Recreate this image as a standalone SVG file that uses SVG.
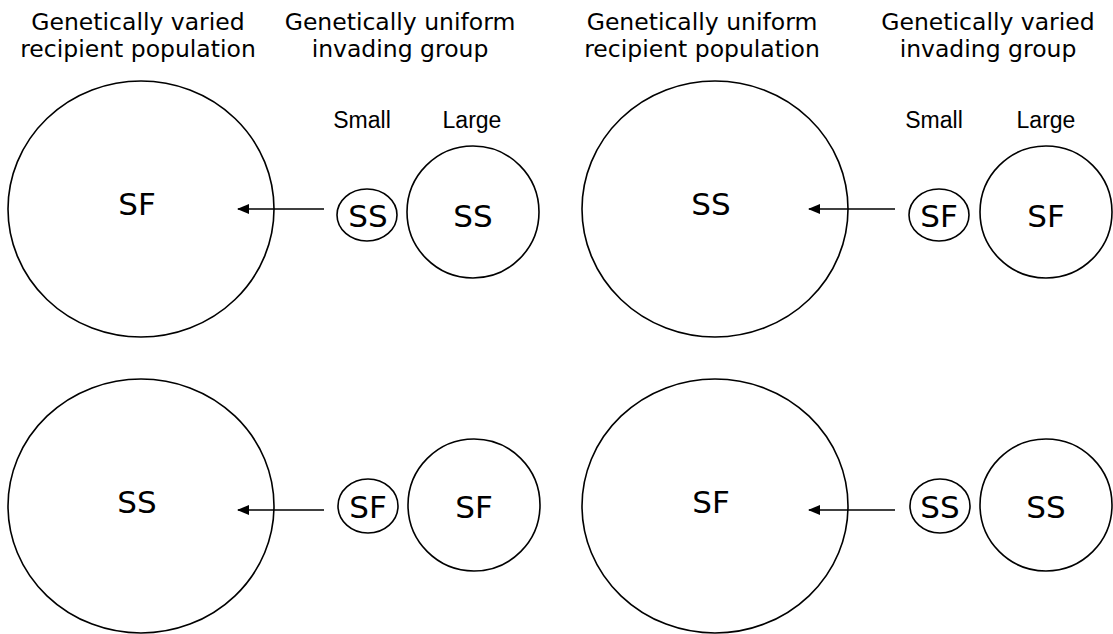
<svg xmlns="http://www.w3.org/2000/svg" width="1113" height="634" viewBox="0 0 1113 634">
<style>
.shape{fill:none;stroke:#000;stroke-width:1.6}
.hdr{font-family:"DejaVu Sans",Verdana,sans-serif;font-size:23.5px;text-anchor:middle;fill:#000}
.sz{font-family:"Liberation Sans",Arial,sans-serif;font-size:23px;text-anchor:middle;fill:#000}
.lbl{font-family:"DejaVu Sans",Verdana,sans-serif;font-size:31px;text-anchor:middle;fill:#000}
.conn{stroke:#000;stroke-width:1.6;fill:none;marker-end:url(#ah)}
</style>
<defs>
<marker id="ah" viewBox="0 0 12 10" refX="11" refY="5" markerWidth="12" markerHeight="10" markerUnits="userSpaceOnUse" orient="auto">
<path d="M0,0 L12,5 L0,10 Z" fill="#000"/>
</marker>
</defs>
<rect width="1113" height="634" fill="#fff"/>
<g id="headers">
<text class="hdr" x="138" y="29.5">Genetically varied</text>
<text class="hdr" x="138" y="57">recipient population</text>
<text class="hdr" x="400" y="29.5">Genetically uniform</text>
<text class="hdr" x="400" y="57">invading group</text>
<text class="hdr" x="702" y="29.5">Genetically uniform</text>
<text class="hdr" x="702" y="57">recipient population</text>
<text class="hdr" x="988" y="29.5">Genetically varied</text>
<text class="hdr" x="988" y="57">invading group</text>
<text class="sz" x="362" y="128">Small</text>
<text class="sz" x="472" y="128">Large</text>
<text class="sz" x="934" y="128">Small</text>
<text class="sz" x="1046" y="128">Large</text>
</g>
<g id="connectors">
<line class="conn" x1="324" y1="209" x2="238" y2="209"/>
<line class="conn" x1="895" y1="209" x2="809" y2="209"/>
<line class="conn" x1="324" y1="510" x2="238" y2="510"/>
<line class="conn" x1="895" y1="510" x2="809" y2="510"/>
</g>
<g id="tl-recipient"><ellipse class="shape" cx="141" cy="209" rx="133" ry="128"/><text class="lbl" x="137" y="215">SF</text></g>
<g id="tl-small"><ellipse class="shape" cx="367" cy="215" rx="30" ry="26"/><text class="lbl" x="368" y="227">SS</text></g>
<g id="tl-large"><circle class="shape" cx="473" cy="212" r="66"/><text class="lbl" x="473" y="227">SS</text></g>
<g id="tr-recipient"><ellipse class="shape" cx="715" cy="209" rx="133" ry="128"/><text class="lbl" x="711" y="215">SS</text></g>
<g id="tr-small"><ellipse class="shape" cx="939" cy="215" rx="30" ry="26"/><text class="lbl" x="939" y="227">SF</text></g>
<g id="tr-large"><circle class="shape" cx="1046" cy="212" r="66"/><text class="lbl" x="1046" y="227">SF</text></g>
<g id="bl-recipient"><ellipse class="shape" cx="141" cy="506" rx="133" ry="127"/><text class="lbl" x="137" y="513">SS</text></g>
<g id="bl-small"><ellipse class="shape" cx="368" cy="506" rx="30" ry="27"/><text class="lbl" x="368" y="518">SF</text></g>
<g id="bl-large"><circle class="shape" cx="474" cy="505" r="66"/><text class="lbl" x="474" y="518">SF</text></g>
<g id="br-recipient"><ellipse class="shape" cx="715" cy="506" rx="133" ry="127"/><text class="lbl" x="711" y="513">SF</text></g>
<g id="br-small"><ellipse class="shape" cx="940" cy="506" rx="30" ry="27"/><text class="lbl" x="940" y="518">SS</text></g>
<g id="br-large"><circle class="shape" cx="1046" cy="505" r="66"/><text class="lbl" x="1046" y="518">SS</text></g>
</svg>
